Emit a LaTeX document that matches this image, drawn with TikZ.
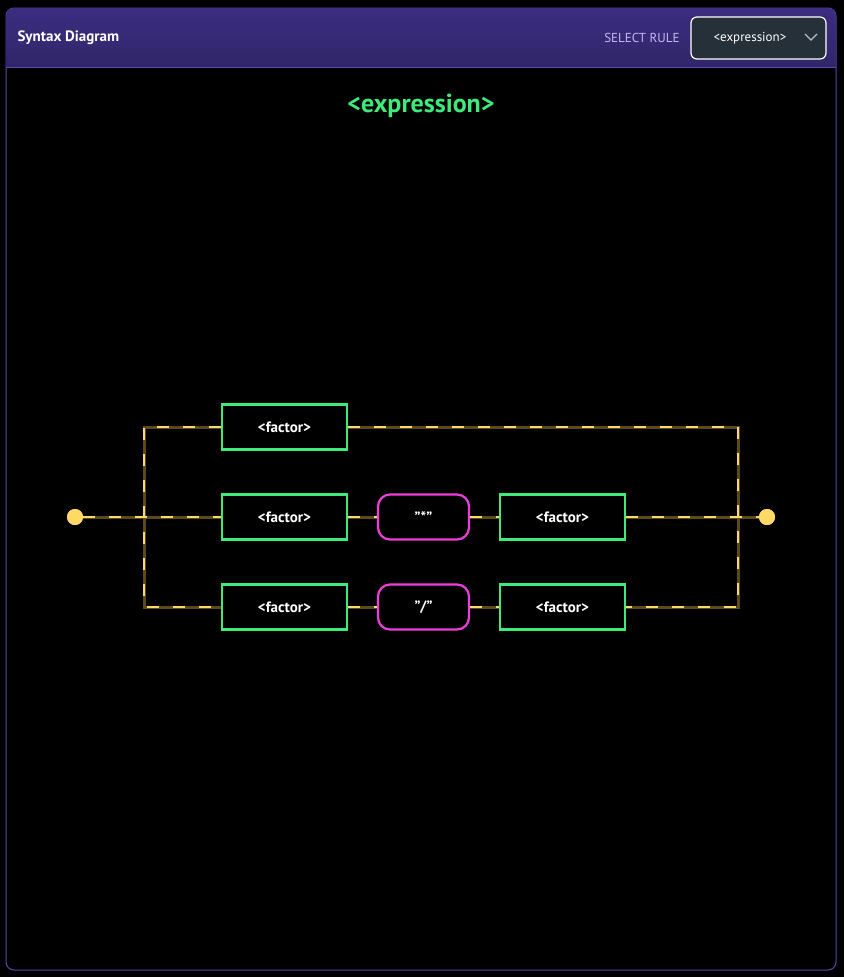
\documentclass[tikz,border=0pt]{standalone}
\usepackage{fontspec}
\setmainfont{PT Sans}
\begin{document}
\begin{tikzpicture}[x=1pt,y=-1pt,
  nt/.style={draw=ntg,line width=2.2pt,minimum width=125pt,minimum height=45pt,inner sep=0pt,text=white,font=\fontsize{15}{18}\selectfont\bfseries},
  tm/.style={draw=tmm,line width=2.2pt,rounded corners=12pt,minimum width=91pt,minimum height=45pt,inner sep=0pt,text=white,font=\fontsize{15}{18}\selectfont\bfseries},
  dot/.style={circle,fill=dotc,minimum size=16pt,inner sep=0pt},
  ybase/.style={draw=lineb,line width=3pt},
  ydash/.style={draw=dotc,line width=2.5pt,dash pattern=on 12pt off 14pt},
]
\definecolor{ntg}{HTML}{3DEA7A}
\definecolor{tmm}{HTML}{F03CDC}
\definecolor{dotc}{HTML}{FFD966}
\definecolor{lineb}{HTML}{5A4A1E}
\definecolor{hdrA}{HTML}{3C2D80}
\definecolor{hdrB}{HTML}{30266A}
\definecolor{frm}{HTML}{5A4AA8}
\definecolor{selc}{HTML}{C8B8F0}
\definecolor{ddf}{HTML}{263038}
\definecolor{chv}{HTML}{B4BEC8}
\useasboundingbox (0,0) rectangle (844,977);
\fill[black] (0,0) rectangle (844,977);
\fill[black,draw=frm,line width=1pt,rounded corners=8pt] (6,8) rectangle (836,970);
\begin{scope}
\clip[rounded corners=8pt] (6,8) rectangle (836,80);
\shade[top color=hdrA,bottom color=hdrB] (6,8) rectangle (836,67);
\end{scope}
\draw[frm,line width=1pt] (6,67) -- (836,67);
\node[anchor=west,text=white,font=\fontsize{15}{18}\selectfont\bfseries] (hdr) at (14,38) {Syntax Diagram};
\node[anchor=east,text=selc,font=\fontsize{13}{16}\selectfont] (sel) at (683,38) {SELECT RULE};
\node[draw=white,fill=ddf,line width=1.2pt,rounded corners=6pt,minimum width=135pt,minimum height=42pt] (dd) at (758.5,38) {};
\node[text=white,font=\fontsize{13}{16}\selectfont] (ddt) at (750,38) {<expression>};
\draw[chv,line width=1.2pt] (805,34) -- (811,40) -- (817,34);
\node[text=ntg,font=\fontsize{26}{30}\selectfont\bfseries] (title) at (421,106) {<expression>};

\node[dot] (s) at (75,517) {};
\node[dot] (e) at (767,517) {};
\node[nt] (f1) at (284.5,427) {<factor>};
\node[nt] (f2) at (284.5,517) {<factor>};
\node[tm] (t1) at (423.5,517) {"*"};
\node[nt] (f3) at (562.5,517) {<factor>};
\node[nt] (f4) at (284.5,607) {<factor>};
\node[tm] (t2) at (423.5,607) {"/"};
\node[nt] (f5) at (562.5,607) {<factor>};
\coordinate (jl) at (144,517);
\coordinate (jr) at (738,517);
\foreach \st in {ybase,ydash}{
  \draw[\st] (s) -- (f2);
  \draw[\st] (f1.west) -| (jl) |- (f4.west);
  \draw[\st] (f2) -- (t1); \draw[\st] (t1) -- (f3); \draw[\st] (f3) -- (e);
  \draw[\st] (f4) -- (t2); \draw[\st] (t2) -- (f5);
  \draw[\st] (f1.east) -| (jr) |- (f5.east);
}
\node[dot] at (s) {};
\node[dot] at (e) {};
\end{tikzpicture}
\end{document}
